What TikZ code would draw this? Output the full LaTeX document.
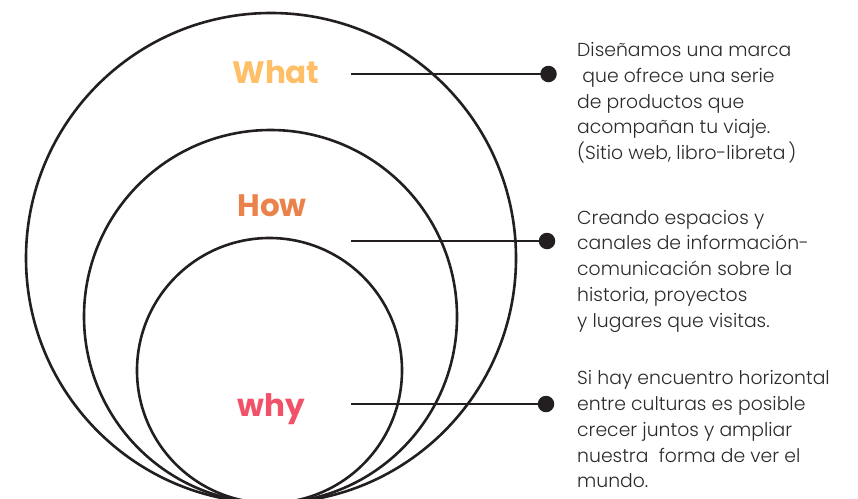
\documentclass[tikz,border=0pt]{standalone}
\usepackage{fontspec}
\newfontfamily\bodyfont{Poppins Light}
\newfontfamily\labelfont{Poppins Bold}
\definecolor{ink}{HTML}{231F20}
\definecolor{txt}{HTML}{2B2B2B}
\definecolor{whatc}{HTML}{FFBF66}
\definecolor{howc}{HTML}{E9834B}
\definecolor{whyc}{HTML}{F05368}
\tikzset{
  ring/.style={draw=ink, line width=2.6pt},
  conn/.style={draw=ink, line width=2.6pt},
  dotnode/.style={circle, fill=ink, inner sep=0pt, minimum size=16.5pt},
  lbl/.style={font=\labelfont\fontsize{31}{31}\selectfont, anchor=base, inner sep=0pt},
  desc/.style={font=\bodyfont\fontsize{18.8}{25.7}\selectfont, text=txt, align=left, anchor=base west, inner sep=0pt}
}
\begin{document}
\begin{tikzpicture}[x=1pt,y=-1pt]
\useasboundingbox (0,0) rectangle (858,498);
\clip (0,0) rectangle (858,498);
\fill[white] (0,0) rectangle (858,498);
% circles
\draw[ring] (271,258) circle[radius=245];
\draw[ring] (270.5,316.5) circle[radius=186.5];
\draw[ring] (269.5,370.5) circle[radius=132.5];
% labels
\node[lbl, text=whatc] (what) at (276,83) {What};
\node[lbl, text=howc] (how) at (272,216) {How};
\node[lbl, text=whyc] (why) at (271,416) {why};
% connectors
\coordinate (s1) at (351,74);
\coordinate (s2) at (351,241);
\coordinate (s3) at (351,404);
\node[dotnode] (d1) at (548.5,74) {};
\node[dotnode] (d2) at (547,241) {};
\node[dotnode] (d3) at (546,404) {};
\draw[conn] (s1) -- (d1.center);
\draw[conn] (s2) -- (d2.center);
\draw[conn] (s3) -- (d3.center);
% descriptions (anchor = baseline of last line)
\node[desc] (t1) at (577,159.4) {Diseñamos una marca\\\hspace{0.28em}que ofrece una serie\\de productos que\\acompañan tu viaje.\\(Sitio web, libro-libreta\hspace{0.15em})};
\node[desc] (t2) at (577,327) {Creando espacios y\\canales de información-\\comunicación sobre la\\historia, proyectos\\y lugares que visitas.};
\node[desc] (t3) at (577,487.7) {Si hay encuentro horizontal\\entre culturas es posible\\crecer juntos y ampliar\\nuestra\hspace{0.55em}forma de ver el\\mundo.};
\end{tikzpicture}
\end{document}
